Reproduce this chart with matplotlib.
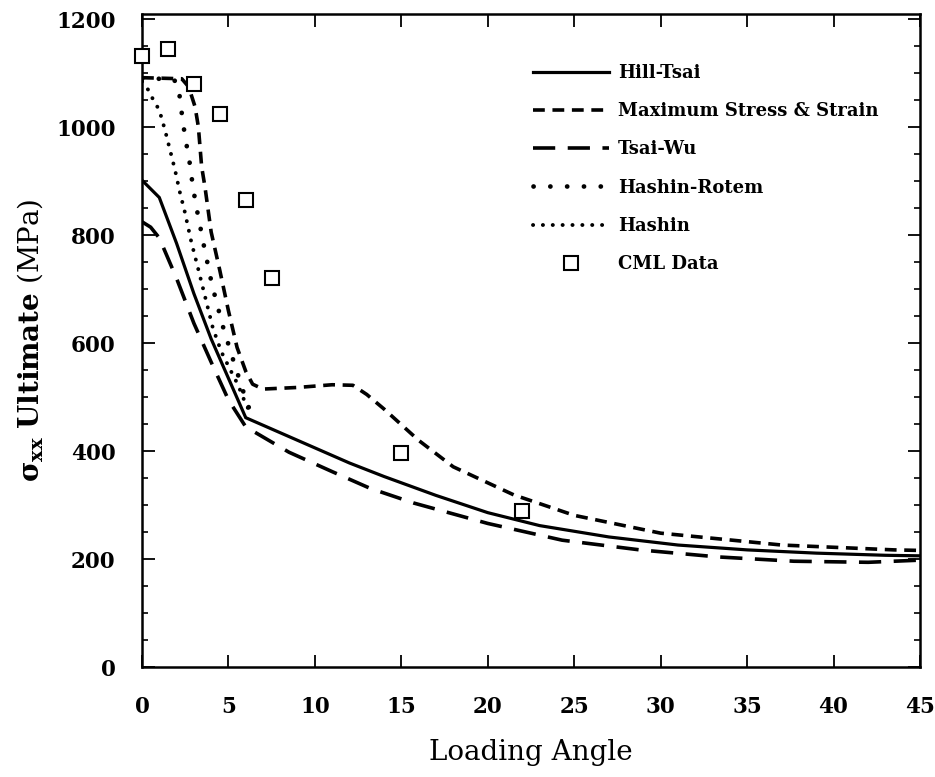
import matplotlib
matplotlib.use("Agg")
import matplotlib.pyplot as plt
from matplotlib.ticker import MultipleLocator

# ---- data ----
hill_x = [0, 1, 2, 3, 4, 5, 6, 9, 12, 14, 17, 20, 23, 27, 31, 35, 39, 43, 45]
hill_y = [902, 870, 785, 692, 608, 535, 462, 420, 378, 353, 318, 286, 262, 241, 226, 217, 211, 207, 206]

maxss_x = [0, 2.3, 2.7, 3.07, 3.26, 3.45, 3.64, 4.0, 4.5, 5.0, 5.5, 6.0, 6.4, 7.0, 9, 11, 12.2, 13, 14, 16, 18, 21.5, 25, 30, 37, 43.5, 45]
maxss_y = [1092, 1090, 1075, 1038, 1001, 927, 890, 806, 735, 660, 592, 548, 524, 515, 518, 523, 522, 505, 478, 420, 371, 319, 281, 248, 226, 217, 216]

tsaiwu_x = [0, 0.5, 1, 2, 3, 4, 5, 6, 8.5, 11, 13.2, 15.7, 20, 24.3, 28.8, 33.3, 37.7, 42, 45]
tsaiwu_y = [825, 815, 795, 720, 637, 565, 495, 445, 398, 362, 331, 304, 266, 235, 217, 204, 196, 194, 198]

hrot_x = [0, 1.8, 2.1, 2.24, 2.39, 2.58, 2.78, 2.93, 3.12, 3.35, 3.59, 4.05, 4.68, 5.36, 5.74, 6.1, 6.4]
hrot_y = [1090, 1090, 1078, 1041, 1004, 967, 930, 893, 856, 819, 779, 708, 631, 560, 523, 485, 470]

hashin_x = [0, 0.37, 0.65, 1.0, 1.33, 1.62, 1.91, 2.18, 2.47, 2.85, 3.24, 3.72, 4.1, 4.59, 5.07, 5.55, 5.94, 6.2]
hashin_y = [1085, 1069, 1051, 1032, 995, 958, 921, 881, 844, 788, 739, 677, 628, 584, 553, 523, 492, 475]

cml_x = [0, 1.5, 3.0, 4.5, 6.0, 7.5, 15, 22]
cml_y = [1133, 1146, 1080, 1024, 866, 720, 396, 289]

xticks = [0, 5, 10, 15, 20, 25, 30, 35, 40, 45]
yticks = [0, 200, 400, 600, 800, 1000, 1200]

plt.rcParams['font.family'] = ['DejaVu Serif']
plt.rcParams['lines.scale_dashes'] = False
plt.rcParams['mathtext.fontset'] = 'custom'
plt.rcParams['mathtext.rm'] = 'DejaVu Serif'
plt.rcParams['mathtext.bf'] = 'DejaVu Serif:bold'
plt.rcParams['mathtext.it'] = 'DejaVu Serif:italic'

fig = plt.figure(figsize=(9.35, 7.77), dpi=100)
ax = fig.add_axes([142/935, 1 - 667/777, (920-142)/935, (667-14)/777])

ax.plot(hill_x, hill_y, color='black', lw=2.3, solid_joinstyle='miter', label='Hill-Tsai')
ax.plot(maxss_x, maxss_y, color='black', lw=2.6, dashes=(8.5, 5.5), label='Maximum Stress & Strain')
ax.plot(tsaiwu_x, tsaiwu_y, color='black', lw=2.6, dashes=(16, 9), label='Tsai-Wu')
ax.plot(hrot_x, hrot_y, color='black', lw=3.4, dashes=(0.1, 12), dash_capstyle='round', label='Hashin-Rotem')
ax.plot(hashin_x, hashin_y, color='black', lw=2.8, dashes=(0.1, 7), dash_capstyle='round', label='Hashin')
ax.plot(cml_x, cml_y, linestyle='none', marker='s', markersize=9.5, markerfacecolor='white',
        markeredgecolor='black', markeredgewidth=1.5, label='CML Data', zorder=5, clip_on=False)

ax.set_xlim(0, 45)
ax.set_ylim(0, 1210)
ax.set_xticks(xticks)
ax.set_yticks(yticks)
ax.yaxis.set_minor_locator(MultipleLocator(50))
ax.tick_params(axis='both', which='major', direction='in', length=9, width=1.3,
               top=True, right=True, labelsize=15.5)
ax.tick_params(axis='y', which='minor', direction='in', length=4.5, width=1.2, right=True)
ax.tick_params(axis='x', which='major', pad=21)
ax.tick_params(axis='y', which='major', pad=19)
for lab in ax.get_xticklabels() + ax.get_yticklabels():
    lab.set_fontweight('bold')
for sp in ax.spines.values():
    sp.set_linewidth(1.8)

ax.set_xlabel('Loading Angle', fontsize=20, labelpad=15)
ax.set_ylabel(r'$\mathbf{\sigma_{xx}}$ $\mathbf{Ultimate}$ $\mathrm{(MPa)}$', fontsize=20, labelpad=8)

leg = ax.legend(loc='upper left', bbox_to_anchor=(533/935, 1 - 64/777), bbox_transform=fig.transFigure,
                frameon=False, handlelength=4.2, handletextpad=0.5, labelspacing=1.12,
                borderpad=0, borderaxespad=0, numpoints=1,
                prop={'family': 'DejaVu Serif', 'weight': 'bold', 'size': 13})

fig.savefig('out.png', dpi=100)
